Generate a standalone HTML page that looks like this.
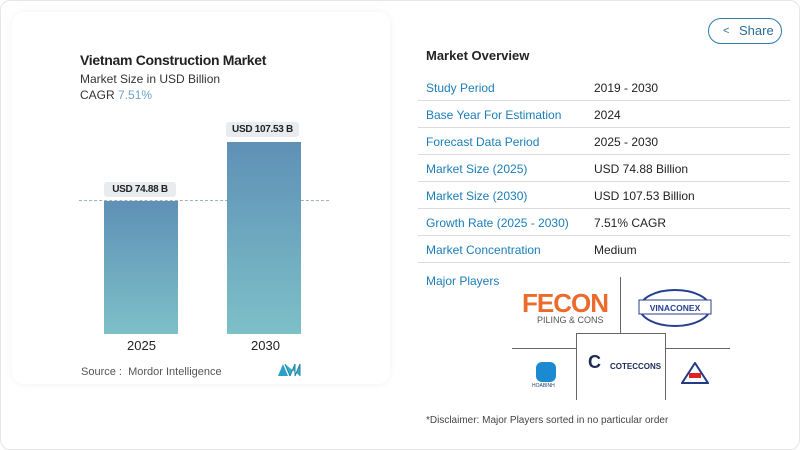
<!DOCTYPE html>
<html><head><style>
body{margin:0;width:800px;height:450px;background:#fff;font-family:"Liberation Sans",sans-serif;position:relative;overflow:hidden}
.outer{position:absolute;left:0;top:0;width:798px;height:448px;border:1px solid #e6e6e6;border-radius:10px}
.card{position:absolute;left:12px;top:12px;width:378px;height:372px;border-radius:12px;background:#fff;box-shadow:0 0 8px rgba(0,0,0,0.06)}
.a{position:absolute;white-space:nowrap}
.bar{position:absolute;background:linear-gradient(#5f90b6,#7dc0c8)}
.bub{position:absolute;background:#e8ecef;border-radius:3px;font-size:10px;font-weight:bold;color:#222;text-align:center;line-height:15px;letter-spacing:-0.3px}
.row{position:absolute;left:418px;width:372px;height:26px;border-bottom:1px solid #dcdcdc;font-size:12px;color:#222}
.row span{position:absolute;top:7px}
.row .l{left:8px;color:#1b7db8}
.row .v{left:176px}
</style></head><body>
<div class="outer"></div>
<div class="card"></div>
<div class="a" style="left:80px;top:52px;font-size:14px;font-weight:bold;color:#222;letter-spacing:-0.3px">Vietnam Construction Market</div>
<div class="a" style="left:80px;top:72px;font-size:12px;color:#333">Market Size in USD Billion</div>
<div class="a" style="left:80px;top:88px;font-size:12px;color:#333">CAGR <span style="color:#6fa3c4">7.51%</span></div>
<div class="a" style="left:79px;top:200px;width:250px;border-top:1.5px dashed #9ab3c0"></div>
<div class="bar" style="left:104px;top:201px;width:74px;height:133px"></div>
<div class="bar" style="left:227px;top:142px;width:74px;height:192px"></div>
<div class="bub" style="left:104px;top:182px;width:72px">USD 74.88 B</div>
<div class="bub" style="left:226px;top:122px;width:73px">USD 107.53 B</div>
<div class="a" style="left:127px;top:338px;font-size:13px;color:#222">2025</div>
<div class="a" style="left:251px;top:338px;font-size:13px;color:#222">2030</div>
<div class="a" style="left:81px;top:366px;font-size:11px;color:#555">Source : &nbsp;Mordor Intelligence</div>
<svg class="a" style="left:278px;top:364px" width="24" height="12"><path d="M0 12L5 0L10 12Z" fill="#2a9fc8"/><path d="M7 0L12 12L17 0L17 12L22 0L22 12" fill="#3ab0c8" stroke="#1f7fa8"/></svg>
<div class="a" style="left:708px;top:18px;width:72px;height:24px;border:1px solid #2b7fa8;border-radius:13px;font-size:13px;color:#2b6e93;line-height:24px"><span style="position:absolute;left:14px;font-size:11px">&lt;</span><span style="position:absolute;left:30px">Share</span></div>
<div class="a" style="left:426px;top:48px;font-size:13px;font-weight:bold;color:#222">Market Overview</div>
<div class="row" style="top:74px"><span class="l">Study Period</span><span class="v">2019 - 2030</span></div>
<div class="row" style="top:101px"><span class="l">Base Year For Estimation</span><span class="v">2024</span></div>
<div class="row" style="top:128px"><span class="l">Forecast Data Period</span><span class="v">2025 - 2030</span></div>
<div class="row" style="top:155px"><span class="l">Market Size (2025)</span><span class="v">USD 74.88 Billion</span></div>
<div class="row" style="top:182px"><span class="l">Market Size (2030)</span><span class="v">USD 107.53 Billion</span></div>
<div class="row" style="top:209px"><span class="l">Growth Rate (2025 - 2030)</span><span class="v">7.51% CAGR</span></div>
<div class="row" style="top:236px"><span class="l">Market Concentration</span><span class="v">Medium</span></div>
<div class="a" style="left:426px;top:274px;font-size:12px;color:#1b7db8">Major Players</div>
<div class="a" style="left:620px;top:277px;height:56px;border-left:1px solid #666"></div>
<div class="a" style="left:512px;top:348px;width:218px;border-top:1px solid #666"></div>
<div class="a" style="left:576px;top:333px;width:88px;height:66px;border:1px solid #666;border-bottom:none;background:#fff"></div>
<div class="a" style="left:522px;top:288px;font-size:26px;font-weight:bold;color:#ec6a2c;letter-spacing:-1px">FECON</div>
<div class="a" style="left:537px;top:315px;font-size:9px;color:#555">PILING &amp; CONS</div>
<svg class="a" style="left:638px;top:288px" width="74" height="40"><ellipse cx="37" cy="20" rx="35" ry="18" fill="none" stroke="#24408e" stroke-width="2"/><rect x="1" y="12" width="72" height="14" fill="#fff" stroke="#24408e"/><text x="37" y="23" font-size="8.5" font-weight="bold" fill="#24408e" text-anchor="middle" font-family="Liberation Sans">VINACONEX</text></svg>
<div class="a" style="left:536px;top:362px;width:20px;height:20px;background:#1b8ad0;border-radius:6px"></div>
<div class="a" style="left:532px;top:383px;font-size:5px;color:#246">HOABINH</div>
<div class="a" style="left:588px;top:352px;font-size:18px;font-weight:bold;color:#1c2a55">C</div>
<div class="a" style="left:610px;top:362px;font-size:8px;font-weight:bold;color:#1c2a55">COTECCONS</div>
<svg class="a" style="left:681px;top:362px" width="28" height="22"><path d="M14 1L27 21H1Z" fill="#fff" stroke="#253a85" stroke-width="2"/><rect x="8" y="11" width="12" height="5" fill="#d22"/></svg>
<div class="a" style="left:426px;top:415px;font-size:10px;color:#444">*Disclaimer: Major Players sorted in no particular order</div>
</body></html>
